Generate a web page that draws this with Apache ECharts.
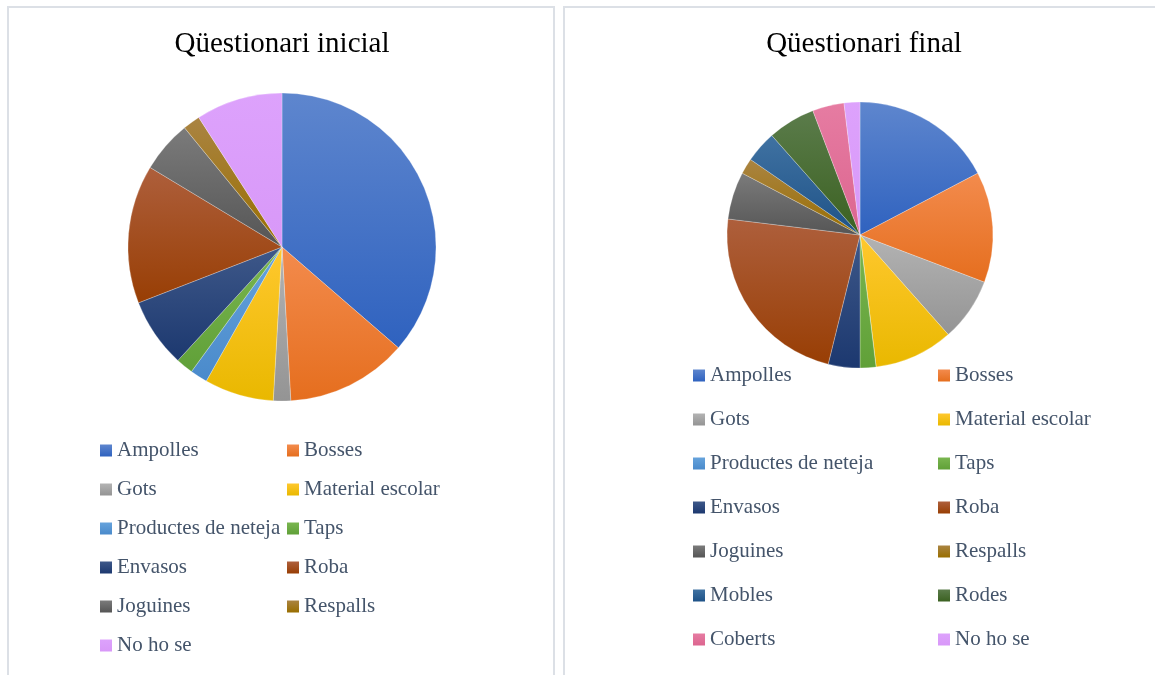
<!DOCTYPE html>
<html>
<head>
<meta charset="utf-8">
<script src="https://cdn.jsdelivr.net/npm/echarts@6/dist/echarts.min.js"></script>
<style>
  html, body { margin: 0; padding: 0; background: #fff; }
  #chart { width: 1155px; height: 675px; }
</style>
</head>
<body>
<div id="chart"></div>
<script>
// categories of each questionnaire
const inicialCategories = ['Ampolles', 'Bosses', 'Gots', 'Material escolar', 'Productes de neteja', 'Taps',
  'Envasos', 'Roba', 'Joguines', 'Respalls', 'No ho se']
const inicialValues = [20, 7, 1, 4, 1, 1, 4, 8, 3, 1, 5]

const finalCategories = ['Ampolles', 'Bosses', 'Gots', 'Material escolar', 'Productes de neteja', 'Taps',
  'Envasos', 'Roba', 'Joguines', 'Respalls', 'Mobles', 'Rodes', 'Coberts', 'No ho se']
const finalValues = [9, 7, 4, 5, 0, 1, 2, 12, 3, 1, 2, 3, 2, 1]

// colors (top, bottom) per category
const colors = {
  'Ampolles': ['#5E86CE', '#2F62BF'],
  'Bosses': ['#F38B4D', '#E56E1E'],
  'Gots': ['#B3B3B3', '#949494'],
  'Material escolar': ['#FFC82E', '#E9B800'],
  'Productes de neteja': ['#66A3DC', '#4A8ACB'],
  'Taps': ['#7AB650', '#60A038'],
  'Envasos': ['#3E5889', '#1C386F'],
  'Roba': ['#AE5F3C', '#983E04'],
  'Joguines': ['#7B7B7B', '#555555'],
  'Respalls': ['#AA8442', '#996E00'],
  'Mobles': ['#4072A2', '#1E5287'],
  'Rodes': ['#5B7C4B', '#3B6121'],
  'Coberts': ['#E67CA2', '#DC658F'],
  'No ho se': ['#DDA2FC', '#D898F8']
}

const FONT = 'Liberation Serif'

function fill (name) {
  let c = colors[name]
  return new echarts.graphic.LinearGradient(0, 0, 0, 1, [
    { offset: 0, color: c[0] },
    { offset: 1, color: c[1] }
  ])
}

function pieData (cats, vals) {
  return cats.map(function (name, i) {
    return { name: name, value: vals[i], itemStyle: { color: fill(name) } }
  })
}

function legendCol (names, left, top, gap) {
  return {
    orient: 'vertical',
    left: left,
    top: top,
    padding: 0,
    itemWidth: 12,
    itemHeight: 12,
    itemGap: gap,
    icon: 'rect',
    selectedMode: false,
    itemStyle: { borderWidth: 0 },
    data: names,
    textStyle: {
      fontFamily: FONT,
      fontSize: 21,
      lineHeight: 21,
      color: '#44546A',
      padding: [0, 0, 0, 0]
    }
  }
}

function even (arr) { return arr.filter(function (d, i) { return i % 2 === 0 }) }
function odd (arr) { return arr.filter(function (d, i) { return i % 2 === 1 }) }

let chart = echarts.init(document.getElementById('chart'), null, { renderer: 'canvas' })
chart.setOption({
  animation: false,
  backgroundColor: '#fff',
  graphic: [
    // panel borders
    {
      type: 'rect',
      shape: { x: 8, y: 7, width: 546, height: 720 },
      style: { fill: 'none', stroke: '#DCE0E6', lineWidth: 2 },
      silent: true
    },
    {
      type: 'rect',
      shape: { x: 564, y: 7, width: 640, height: 720 },
      style: { fill: 'none', stroke: '#DCE0E6', lineWidth: 2 },
      silent: true
    }
  ],
  title: [
    {
      text: 'Qüestionari inicial',
      left: 282,
      top: 30,
      padding: 0,
      textAlign: 'center',
      textStyle: { fontFamily: FONT, fontSize: 29, fontWeight: 'normal', color: '#000' }
    },
    {
      text: 'Qüestionari final',
      left: 864,
      top: 30,
      padding: 0,
      textAlign: 'center',
      textStyle: { fontFamily: FONT, fontSize: 29, fontWeight: 'normal', color: '#000' }
    }
  ],
  legend: [
    legendCol(even(inicialCategories), 100, 440, 18),
    legendCol(odd(inicialCategories), 287, 440, 18),
    legendCol(even(finalCategories), 693, 365, 23),
    legendCol(odd(finalCategories), 938, 365, 23)
  ],
  series: [
    {
      name: 'Qüestionari inicial',
      type: 'pie',
      center: [282, 247],
      radius: 154,
      startAngle: 90,
      clockwise: true,
      label: { show: false },
      labelLine: { show: false },
      emphasis: { disabled: true },
      itemStyle: { borderColor: 'rgba(255,255,255,0.5)', borderWidth: 0.5 },
      data: pieData(inicialCategories, inicialValues)
    },
    {
      name: 'Qüestionari final',
      type: 'pie',
      center: [860, 235],
      radius: 133,
      startAngle: 90,
      clockwise: true,
      label: { show: false },
      labelLine: { show: false },
      emphasis: { disabled: true },
      itemStyle: { borderColor: 'rgba(255,255,255,0.5)', borderWidth: 0.5 },
      data: pieData(finalCategories, finalValues)
    }
  ]
})
</script>
</body>
</html>
